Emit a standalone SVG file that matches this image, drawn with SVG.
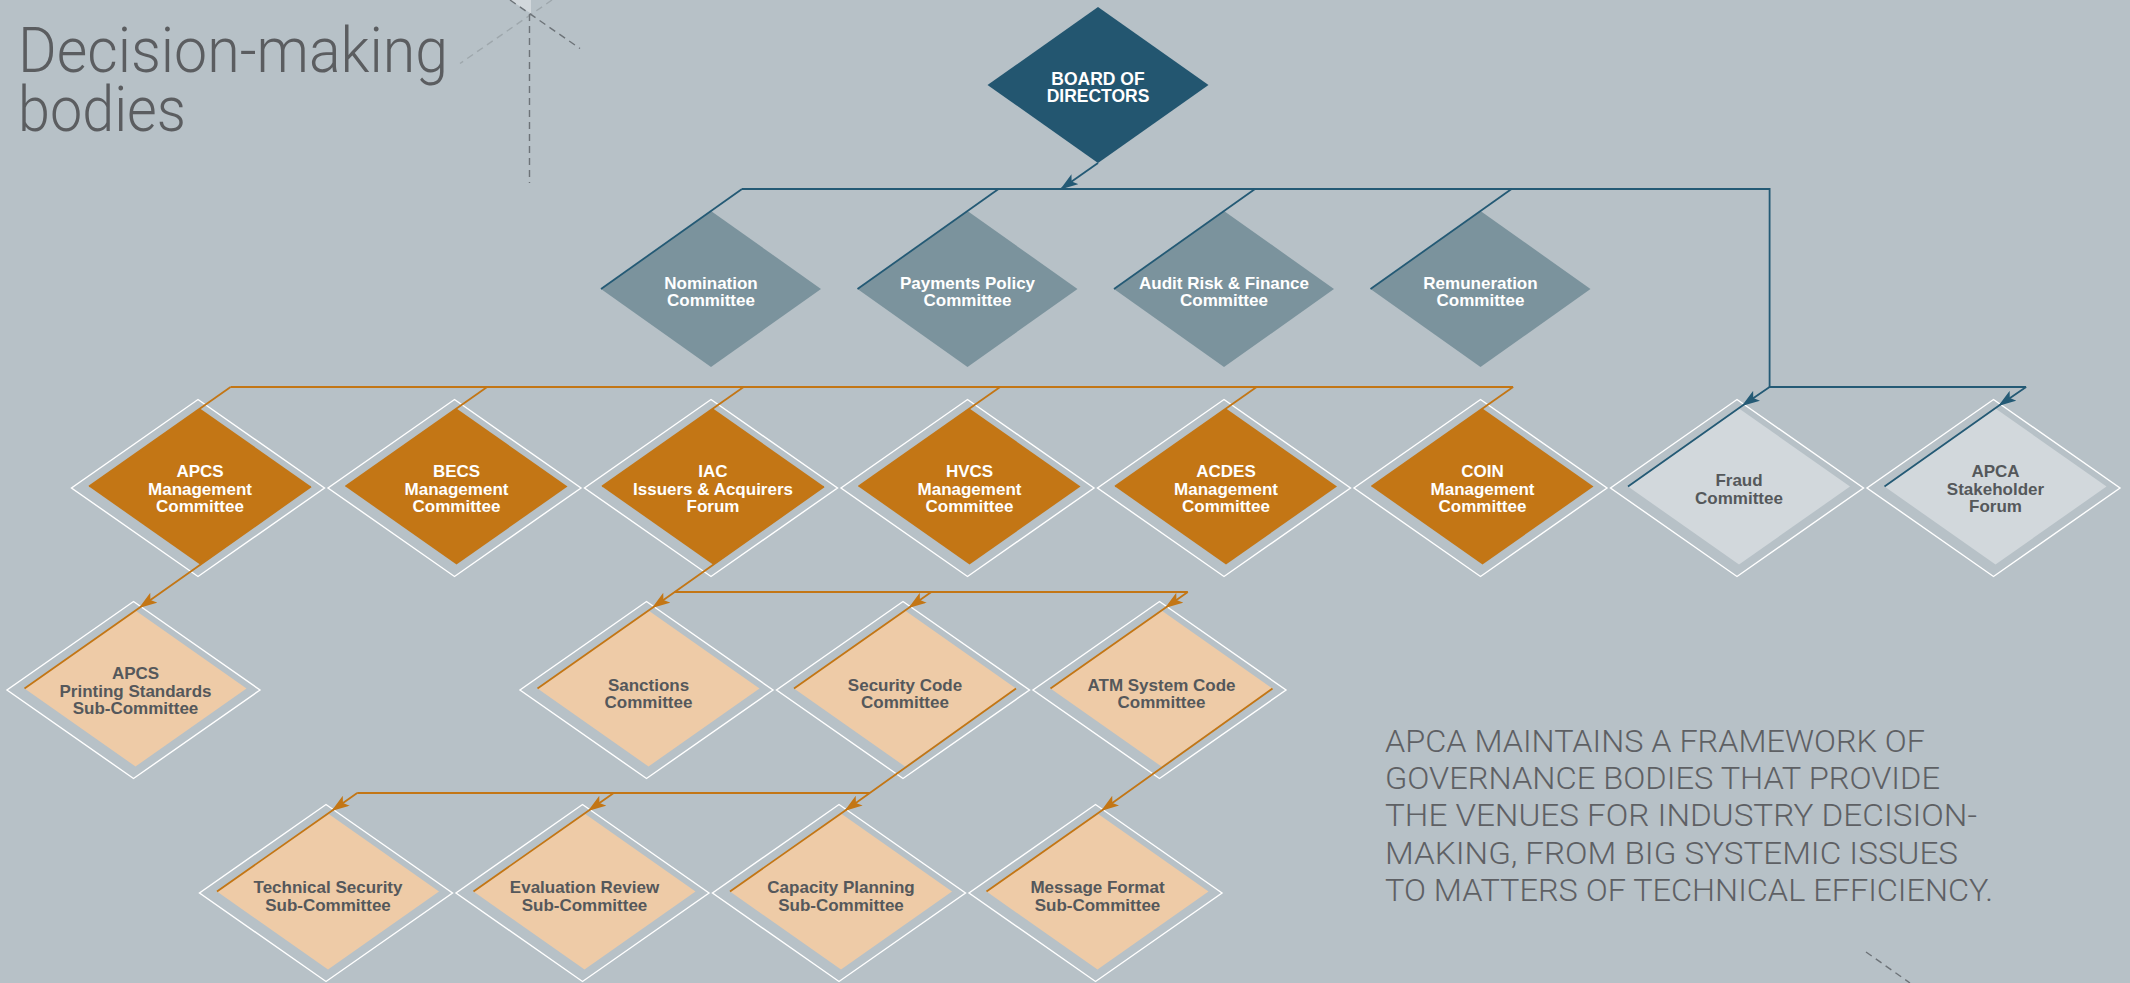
<svg xmlns="http://www.w3.org/2000/svg" width="2130" height="983" viewBox="0 0 2130 983">
  <defs>
    <style>
      .bg { fill: #b7c1c7; }
      .board { fill: #235670; }
      .l1 { fill: #7b939d; }
      .org { fill: #c37615; }
      .lorg { fill: #eecba7; }
      .lgry { fill: #d2d8dc; }
      .frame { fill: none; stroke: #ffffff; stroke-width: 1.4; }
      .nt { font-family: "Liberation Sans", Arial, sans-serif; font-weight: 700; font-size: 17px; text-anchor: middle; }
      .w { fill: #ffffff; }
      .g { fill: #55585b; }
      .title { font-family: Roboto, "Liberation Sans", sans-serif; font-weight: 300; font-size: 63px; fill: #5b5d60; }
      .body { font-family: Roboto, "Liberation Sans", sans-serif; font-weight: 300; font-size: 31px; fill: #5e6064; }
      .dash-d { fill: none; stroke: #6d7378; stroke-width: 1.4; stroke-dasharray: 7 5; }
      .dash-l { fill: none; stroke: #9ea7ac; stroke-width: 1.4; stroke-dasharray: 7 5; }
      .cb { fill: none; stroke: #245a75; stroke-width: 1.8; }
      .co { fill: none; stroke: #c37615; stroke-width: 1.8; }
      .ab { marker-mid: url(#arrow-b); }
      .ao { marker-mid: url(#arrow-o); }
    </style>
    <marker id="arrow-b" markerUnits="userSpaceOnUse" viewBox="0 0 18 12" markerWidth="18" markerHeight="12" refX="17" refY="6" orient="auto">
      <path d="M0,0 L18,6 L0,12 L4,6 Z" fill="#245a75"/>
    </marker>
    <marker id="arrow-o" markerUnits="userSpaceOnUse" viewBox="0 0 18 12" markerWidth="18" markerHeight="12" refX="17" refY="6" orient="auto">
      <path d="M0,0 L18,6 L0,12 L4,6 Z" fill="#c37615"/>
    </marker>
  </defs>

  <rect class="bg" x="0" y="0" width="2130" height="983"/>

  <!-- decorative guide lines -->
  <g id="decor">
    <polygon points="510,0 531,0 531,13.5" fill="#d2d8dc"/>
    <path class="dash-l" d="M552 0 L460 63.5"/>
    <path class="dash-d" d="M510 0 L580 48.5"/>
    <path class="dash-d" d="M529.5 14 V183"/>
    <path class="dash-d" d="M1866 952 L1910 983"/>
  </g>

  <!-- heading -->
  <g id="heading">
    <text class="title"><tspan x="18" y="72" textLength="430" lengthAdjust="spacingAndGlyphs">Decision-making</tspan><tspan x="18" y="131" textLength="168" lengthAdjust="spacingAndGlyphs">bodies</tspan></text>
  </g>

  <!-- statement -->
  <g id="statement" class="body">
    <text x="1385" y="751.7" textLength="540" lengthAdjust="spacingAndGlyphs">APCA MAINTAINS A FRAMEWORK OF</text>
    <text x="1385" y="789" textLength="555" lengthAdjust="spacingAndGlyphs">GOVERNANCE BODIES THAT PROVIDE</text>
    <text x="1385" y="826.3" textLength="592" lengthAdjust="spacingAndGlyphs">THE VENUES FOR INDUSTRY DECISION-</text>
    <text x="1385" y="863.5" textLength="573" lengthAdjust="spacingAndGlyphs">MAKING, FROM BIG SYSTEMIC ISSUES</text>
    <text x="1385" y="900.8" textLength="608" lengthAdjust="spacingAndGlyphs">TO MATTERS OF TECHNICAL EFFICIENCY.</text>
  </g>

  <!-- top level -->
  <g id="board">
    <polygon class="board" points="1098,7 1208.5,85 1098,163 987.5,85"/>
    <text class="nt w" style="font-size:17.5px" x="1098" y="84.5">BOARD OF</text>
    <text class="nt w" style="font-size:17.5px" x="1098" y="102">DIRECTORS</text>
  </g>

  <!-- board committees -->
  <g id="nomination">
    <polygon class="l1" points="711,211 821,289 711,367 601,289"/>
    <text class="nt w" x="711" y="288.5">Nomination</text>
    <text class="nt w" x="711" y="306">Committee</text>
  </g>
  <g id="payments-policy">
    <polygon class="l1" points="967.5,211 1077.5,289 967.5,367 857.5,289"/>
    <text class="nt w" x="967.5" y="288.5">Payments Policy</text>
    <text class="nt w" x="967.5" y="306">Committee</text>
  </g>
  <g id="audit-risk-finance">
    <polygon class="l1" points="1224,211 1334,289 1224,367 1114,289"/>
    <text class="nt w" x="1224" y="288.5">Audit Risk &amp; Finance</text>
    <text class="nt w" x="1224" y="306">Committee</text>
  </g>
  <g id="remuneration">
    <polygon class="l1" points="1480.5,211 1590.5,289 1480.5,367 1370.5,289"/>
    <text class="nt w" x="1480.5" y="288.5">Remuneration</text>
    <text class="nt w" x="1480.5" y="306">Committee</text>
  </g>

  <!-- management committees and forums -->
  <g id="apcs">
    <polygon class="frame" points="198,399.5 324.5,488 198,576.5 71.5,488"/>
    <polygon class="org" points="200,408.5 311,486.5 200,564.5 89,486.5"/>
    <text class="nt w" x="200" y="477">APCS</text>
    <text class="nt w" x="200" y="494.5">Management</text>
    <text class="nt w" x="200" y="512">Committee</text>
  </g>
  <g id="becs">
    <polygon class="frame" points="454.5,399.5 581,488 454.5,576.5 328,488"/>
    <polygon class="org" points="456.5,408.5 567.5,486.5 456.5,564.5 345.5,486.5"/>
    <text class="nt w" x="456.5" y="477">BECS</text>
    <text class="nt w" x="456.5" y="494.5">Management</text>
    <text class="nt w" x="456.5" y="512">Committee</text>
  </g>
  <g id="iac">
    <polygon class="frame" points="711,399.5 837.5,488 711,576.5 584.5,488"/>
    <polygon class="org" points="713,408.5 824,486.5 713,564.5 602,486.5"/>
    <text class="nt w" x="713" y="477">IAC</text>
    <text class="nt w" x="713" y="494.5">Issuers &amp; Acquirers</text>
    <text class="nt w" x="713" y="512">Forum</text>
  </g>
  <g id="hvcs">
    <polygon class="frame" points="967.5,399.5 1094,488 967.5,576.5 841,488"/>
    <polygon class="org" points="969.5,408.5 1080.5,486.5 969.5,564.5 858.5,486.5"/>
    <text class="nt w" x="969.5" y="477">HVCS</text>
    <text class="nt w" x="969.5" y="494.5">Management</text>
    <text class="nt w" x="969.5" y="512">Committee</text>
  </g>
  <g id="acdes">
    <polygon class="frame" points="1224,399.5 1350.5,488 1224,576.5 1097.5,488"/>
    <polygon class="org" points="1226,408.5 1337,486.5 1226,564.5 1115,486.5"/>
    <text class="nt w" x="1226" y="477">ACDES</text>
    <text class="nt w" x="1226" y="494.5">Management</text>
    <text class="nt w" x="1226" y="512">Committee</text>
  </g>
  <g id="coin">
    <polygon class="frame" points="1480.5,399.5 1607,488 1480.5,576.5 1354,488"/>
    <polygon class="org" points="1482.5,408.5 1593.5,486.5 1482.5,564.5 1371.5,486.5"/>
    <text class="nt w" x="1482.5" y="477">COIN</text>
    <text class="nt w" x="1482.5" y="494.5">Management</text>
    <text class="nt w" x="1482.5" y="512">Committee</text>
  </g>
  <g id="fraud">
    <polygon class="frame" points="1737,399.5 1863.5,488 1737,576.5 1610.5,488"/>
    <polygon class="lgry" points="1739,408.5 1850,486.5 1739,564.5 1628,486.5"/>
    <text class="nt g" x="1739" y="486">Fraud</text>
    <text class="nt g" x="1739" y="503.5">Committee</text>
  </g>
  <g id="stakeholder-forum">
    <polygon class="frame" points="1993.5,399.5 2120,488 1993.5,576.5 1867,488"/>
    <polygon class="lgry" points="1995.5,408.5 2106.5,486.5 1995.5,564.5 1884.5,486.5"/>
    <text class="nt g" x="1995.5" y="477">APCA</text>
    <text class="nt g" x="1995.5" y="494.5">Stakeholder</text>
    <text class="nt g" x="1995.5" y="512">Forum</text>
  </g>

  <!-- committees -->
  <g id="apcs-printing-standards">
    <polygon class="frame" points="133.5,601.5 260,690 133.5,778.5 7,690"/>
    <polygon class="lorg" points="135.5,610.5 246.5,688.5 135.5,766.5 24.5,688.5"/>
    <text class="nt g" x="135.5" y="679">APCS</text>
    <text class="nt g" x="135.5" y="696.5">Printing Standards</text>
    <text class="nt g" x="135.5" y="714">Sub-Committee</text>
  </g>
  <g id="sanctions">
    <polygon class="frame" points="646.5,601.5 773,690 646.5,778.5 520,690"/>
    <polygon class="lorg" points="648.5,610.5 759.5,688.5 648.5,766.5 537.5,688.5"/>
    <text class="nt g" x="648.5" y="690.5">Sanctions</text>
    <text class="nt g" x="648.5" y="708">Committee</text>
  </g>
  <g id="security-code">
    <polygon class="frame" points="903,601.5 1029.5,690 903,778.5 776.5,690"/>
    <polygon class="lorg" points="905,610.5 1016,688.5 905,766.5 794,688.5"/>
    <text class="nt g" x="905" y="690.5">Security Code</text>
    <text class="nt g" x="905" y="708">Committee</text>
  </g>
  <g id="atm-system-code">
    <polygon class="frame" points="1159.5,601.5 1286,690 1159.5,778.5 1033,690"/>
    <polygon class="lorg" points="1161.5,610.5 1272.5,688.5 1161.5,766.5 1050.5,688.5"/>
    <text class="nt g" x="1161.5" y="690.5">ATM System Code</text>
    <text class="nt g" x="1161.5" y="708">Committee</text>
  </g>

  <!-- sub-committees -->
  <g id="technical-security">
    <polygon class="frame" points="326,804.5 452.5,893 326,981.5 199.5,893"/>
    <polygon class="lorg" points="328,813.5 439,891.5 328,969.5 217,891.5"/>
    <text class="nt g" x="328" y="893">Technical Security</text>
    <text class="nt g" x="328" y="910.5">Sub-Committee</text>
  </g>
  <g id="evaluation-review">
    <polygon class="frame" points="582.5,804.5 709,893 582.5,981.5 456,893"/>
    <polygon class="lorg" points="584.5,813.5 695.5,891.5 584.5,969.5 473.5,891.5"/>
    <text class="nt g" x="584.5" y="893">Evaluation Review</text>
    <text class="nt g" x="584.5" y="910.5">Sub-Committee</text>
  </g>
  <g id="capacity-planning">
    <polygon class="frame" points="839,804.5 965.5,893 839,981.5 712.5,893"/>
    <polygon class="lorg" points="841,813.5 952,891.5 841,969.5 730,891.5"/>
    <text class="nt g" x="841" y="893">Capacity Planning</text>
    <text class="nt g" x="841" y="910.5">Sub-Committee</text>
  </g>
  <g id="message-format">
    <polygon class="frame" points="1095.5,804.5 1222,893 1095.5,981.5 969,893"/>
    <polygon class="lorg" points="1097.5,813.5 1208.5,891.5 1097.5,969.5 986.5,891.5"/>
    <text class="nt g" x="1097.5" y="893">Message Format</text>
    <text class="nt g" x="1097.5" y="910.5">Sub-Committee</text>
  </g>

  <!-- connectors -->
  <g id="connectors">
    <!-- board reporting lines -->
    <path class="cb" d="M1098 163 L1061 189" marker-end="url(#arrow-b)"/>
    <path class="cb" d="M742 189 H1769.6 V387 H2026.1"/>
    <path class="cb" d="M742 189 L601 289"/>
    <path class="cb" d="M998.5 189 L857.5 289"/>
    <path class="cb" d="M1255 189 L1114 289"/>
    <path class="cb" d="M1511.5 189 L1370.5 289"/>
    <path class="cb ab" d="M1769.6 387 L1742.6 405.5 L1628 486.5"/>
    <path class="cb ab" d="M2026.1 387 L1999.1 405.5 L1884.5 486.5"/>

    <!-- management committee line -->
    <path class="co" d="M230.6 387 H1513.1"/>
    <path class="co" d="M230.6 387 L89 486.5"/>
    <path class="co" d="M487.1 387 L345.5 486.5"/>
    <path class="co" d="M743.6 387 L602 486.5"/>
    <path class="co" d="M1000.1 387 L858.5 486.5"/>
    <path class="co" d="M1256.6 387 L1115 486.5"/>
    <path class="co" d="M1513.1 387 L1371.5 486.5"/>

    <!-- APCS to printing standards -->
    <path class="co ao" d="M311 486.5 L139.8 607.5 L24.5 688.5"/>

    <!-- IAC committees -->
    <path class="co ao" d="M824 486.5 L652.8 607.5 L537.5 688.5"/>
    <path class="co" d="M674.7 592 H1187.8"/>
    <path class="co ao" d="M931.3 592 L909.3 607.5 L794 688.5"/>
    <path class="co ao" d="M1187.8 592 L1165.8 607.5 L1050.5 688.5"/>

    <!-- security code sub-committees -->
    <path class="co ao" d="M1016 688.5 L845.3 810.5 L730 891.5"/>
    <path class="co" d="M357.2 793 H869.8"/>
    <path class="co ao" d="M357.2 793 L332.3 810.5 L217 891.5"/>
    <path class="co ao" d="M613.7 793 L588.8 810.5 L473.5 891.5"/>

    <!-- ATM system code sub-committee -->
    <path class="co ao" d="M1272.5 688.5 L1101.8 810.5 L986.5 891.5"/>
  </g>
</svg>
